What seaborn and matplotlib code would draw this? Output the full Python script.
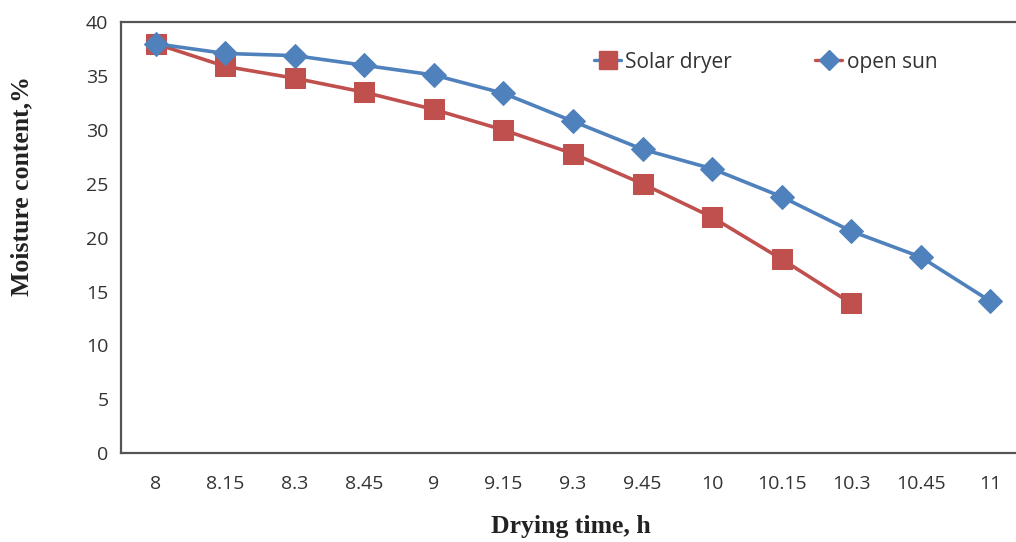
import matplotlib
matplotlib.use("Agg")
import matplotlib.pyplot as plt
from matplotlib.lines import Line2D
import seaborn as sns
import pandas as pd

time_labels = ["8", "8.15", "8.3", "8.45", "9", "9.15", "9.3", "9.45", "10", "10.15", "10.3", "10.45", "11"]
solar_dryer = [38.0, 35.9, 34.8, 33.5, 31.9, 30.0, 27.8, 25.0, 21.9, 18.0, 13.9]
open_sun = [38.0, 37.1, 36.9, 36.0, 35.1, 33.4, 30.8, 28.2, 26.4, 23.8, 20.6, 18.2, 14.1]

red = "#C0504D"
blue = "#4F81BD"

sns.set_style("white")
fig = plt.figure(figsize=(10.16, 5.42), dpi=100)
ax = fig.add_axes([0.119, 0.164, 0.89, 0.795])

df_s = pd.DataFrame({"x": range(len(solar_dryer)), "y": solar_dryer})
df_o = pd.DataFrame({"x": range(len(open_sun)), "y": open_sun})
sns.lineplot(data=df_s, x="x", y="y", ax=ax, color=red, lw=2.6, marker="s",
             markersize=15, markeredgecolor=red)
sns.lineplot(data=df_o, x="x", y="y", ax=ax, color=blue, lw=2.6, marker="D",
             markersize=12, markeredgecolor=blue)

ax.set_xlim(-0.5, 12.5)
ax.set_ylim(0, 40)
ax.set_xticks(range(len(time_labels)))
ax.set_xticklabels(time_labels)
ax.set_yticks(range(0, 41, 5))
for lab in ax.get_xticklabels() + ax.get_yticklabels():
    lab.set_fontfamily("Open Sans")
    lab.set_fontsize(14)
    lab.set_color("#333333")
ax.tick_params(axis="both", length=0)
ax.tick_params(axis="x", pad=16)
ax.tick_params(axis="y", pad=9)

for s in ["left", "bottom", "top"]:
    ax.spines[s].set_color("#555555")
    ax.spines[s].set_linewidth(1.6)
ax.spines["right"].set_visible(False)

ax.set_xlabel("")
ax.set_ylabel("")
fig.text(571 / 1016, 1 - 526 / 542, "Drying time, h", ha="center", va="center",
         fontfamily="Liberation Serif", fontweight="bold", fontsize=18.5, color="#222222")
fig.text(22 / 1016, 1 - 186 / 542, "Moisture content,%", ha="center", va="center",
         rotation=90, fontfamily="Liberation Serif", fontweight="bold", fontsize=18.5,
         color="#222222")

handles = [
    Line2D([], [], color=blue, lw=2.4, marker="s", markersize=13,
           markerfacecolor=red, markeredgecolor=red),
    Line2D([], [], color=red, lw=2.4, marker="D", markersize=10,
           markerfacecolor=blue, markeredgecolor=blue),
]
leg = ax.legend(handles, ["Solar dryer", "open sun"], loc="center left",
                bbox_to_anchor=((594 - 121) / 904, (453 - 62) / 431), ncol=2,
                frameon=False, borderaxespad=0, borderpad=0,
                handlelength=1.3, handletextpad=0.2, columnspacing=4.0,
                prop={"family": "Open Sans", "size": 15})
for t in leg.get_texts():
    t.set_color("#333333")

fig.savefig("out.png", dpi=100)
